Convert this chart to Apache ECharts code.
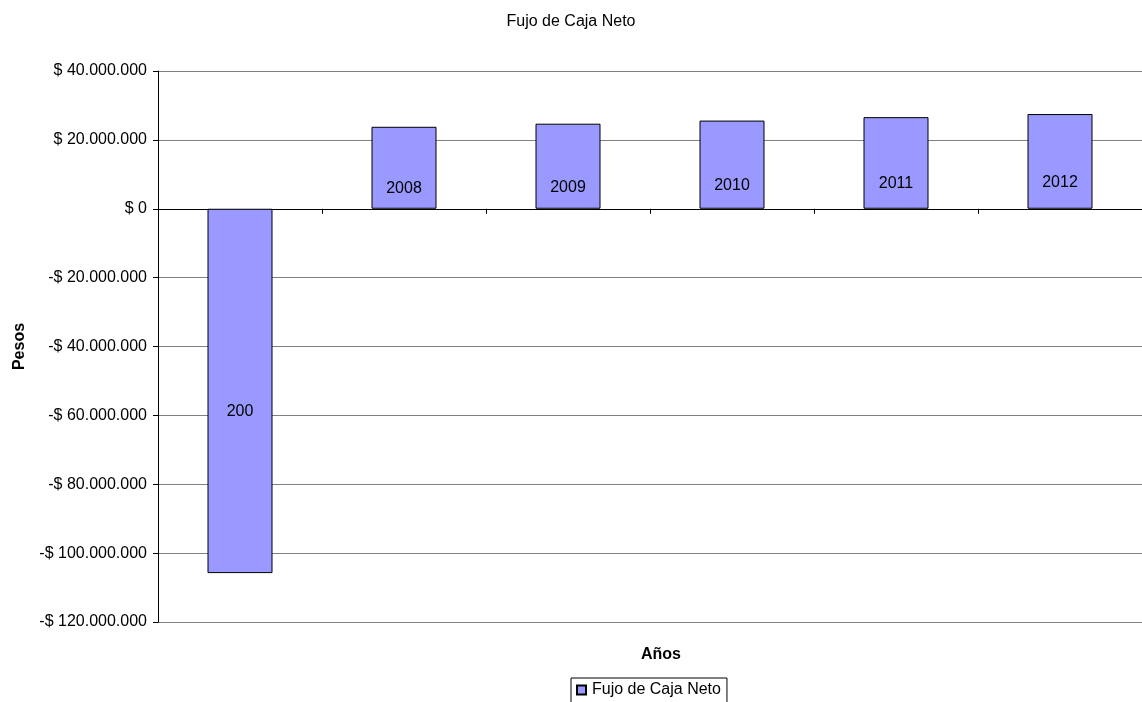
<!DOCTYPE html>
<html>
<head>
<meta charset="utf-8">
<title>Fujo de Caja Neto</title>
<script src="https://cdn.jsdelivr.net/npm/echarts@6/dist/echarts.min.js"></script>
<style>
  html, body { margin: 0; padding: 0; background: #fff; }
  #chart { width: 1142px; height: 702px; }
</style>
</head>
<body>
<div id="chart"></div>
<script>
// datos
var years = ['200', '2008', '2009', '2010', '2011', '2012'];
var flujo = [-105800000, 23800000, 24700000, 25600000, 26600000, 27500000];
var serieName = 'Fujo de Caja Neto';

function pesos(v) {
    var s = Math.abs(v).toString().replace(/\B(?=(\d{3})+(?!\d))/g, '.');
    return (v < 0 ? '-$ ' : '$ ') + s;
}

var chart = echarts.init(document.getElementById('chart'));
var option = {
    animation: false,
    textStyle: { fontFamily: 'Liberation Sans, Arial, sans-serif', color: '#000' },
    title: [
        {
            text: 'Fujo de Caja Neto',
            left: 'center', top: 9,
            textStyle: { fontSize: 16, fontWeight: 'normal', color: '#000' }
        },
        {
            text: 'Años',
            left: 656, top: 642, textAlign: 'center',
            textStyle: { fontSize: 16, fontWeight: 'bold', color: '#000' }
        }
    ],
    grid: { left: 158, right: 0, top: 71, bottom: 80 },
    legend: {
        data: [{ name: serieName, icon: 'rect' }],
        left: 571, top: 678,
        itemWidth: 9, itemHeight: 9, itemGap: 4,
        borderColor: '#000', borderWidth: 1, padding: [4, 6, 6, 5],
        textStyle: { fontSize: 16, color: '#000', padding: [0, 0, 0, 1] }
    },
    xAxis: {
        type: 'category',
        data: years,
        axisLine: { onZero: true, lineStyle: { color: '#000', width: 1 } },
        axisTick: { show: true, alignWithLabel: false, interval: 0, length: 5, lineStyle: { color: '#000' } },
        axisLabel: { show: false },
        splitLine: { show: false }
    },
    yAxis: {
        type: 'value',
        min: -120000000, max: 40000000, interval: 20000000,
        name: 'Pesos', nameLocation: 'middle', nameGap: 130, nameRotate: 90,
        nameTextStyle: { fontSize: 16, fontWeight: 'bold', color: '#000' },
        axisLine: { show: true, lineStyle: { color: '#000', width: 1 } },
        axisTick: { show: true, length: 5, lineStyle: { color: '#000' } },
        axisLabel: { fontSize: 16, color: '#000', margin: 11, formatter: pesos },
        splitLine: { show: true, lineStyle: { color: '#808080', width: 1 } }
    },
    series: [
        {
            name: serieName,
            type: 'bar',
            data: flujo,
            barWidth: 65,
            itemStyle: { color: '#9999FF', borderColor: '#000', borderWidth: 1 },
            label: {
                show: true, position: 'inside', offset: [0, 21],
                formatter: '{b}', fontSize: 16, color: '#000'
            }
        }
    ]
};
chart.setOption(option);
</script>
</body>
</html>
